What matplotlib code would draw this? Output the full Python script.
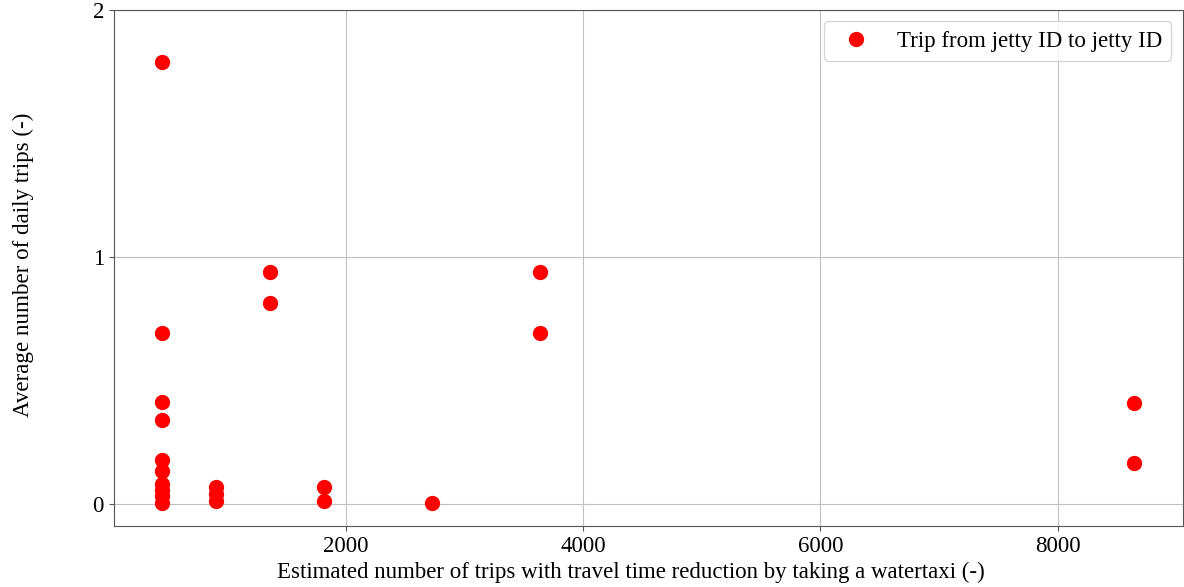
import matplotlib
matplotlib.use("Agg")
import matplotlib.pyplot as plt

plt.rcParams['font.family'] = ['Liberation Serif', 'DejaVu Serif']

# estimated trips with travel time reduction vs. average daily trips
trips_est = [455, 455, 455, 455, 455, 455, 455, 455, 455, 455,
             910, 910, 910,
             1365, 1365,
             1820, 1820,
             2730,
             3640, 3640,
             8645, 8645]
daily_trips = [1.79, 0.69, 0.414, 0.34, 0.178, 0.134, 0.08, 0.055, 0.03, 0.003,
               0.068, 0.04, 0.01,
               0.94, 0.812,
               0.066, 0.013,
               0.003,
               0.94, 0.691,
               0.408, 0.165]

fig, ax = plt.subplots(figsize=(11.84, 5.87), dpi=100)
ax.plot(trips_est, daily_trips, 'o', color='red', markersize=10,
        label="Trip from jetty ID to jetty ID", zorder=3)
ax.set_ylim(-0.09, 2)
ax.set_yticks([0, 1, 2])
ax.grid(True, color='#c0c0c0', linewidth=0.8)
ax.set_axisbelow(True)
for s in ax.spines.values():
    s.set_color('#555555')
ax.tick_params(labelsize=16.5, colors='#555555', labelcolor='black')
ax.set_xlabel("Estimated number of trips with travel time reduction by taking a watertaxi (-)", fontsize=16.5)
ax.set_ylabel("Average number of daily trips (-)", fontsize=16.6, labelpad=42)
ax.xaxis.label.set_x(0.484)
ax.yaxis.label.set_y(0.506)
ax.legend(loc='upper right', fontsize=16.5)
plt.subplots_adjust(left=0.096, right=0.999, top=0.983, bottom=0.104)
plt.savefig("out.png")
